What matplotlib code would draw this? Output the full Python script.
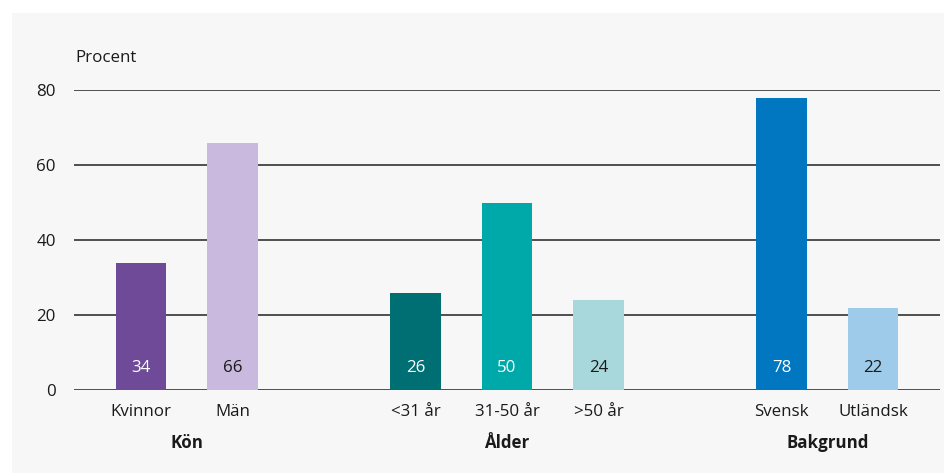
import matplotlib
matplotlib.use('Agg')
import matplotlib.pyplot as plt
from matplotlib.patches import Rectangle

plt.rcParams['font.family'] = ['Open Sans', 'DejaVu Sans']

# data
categories = ['Kvinnor', 'Män', '<31 år', '31-50 år', '>50 år', 'Svensk', 'Utländsk']
values = [34, 66, 26, 50, 24, 78, 22]
positions = [0, 1, 3, 4, 5, 7, 8]
groups = ['Kön', 'Ålder', 'Bakgrund']
group_centers = [0.5, 4, 7.5]
bar_colors = ['#6f4a98', '#c9b9de', '#006f74', '#00a9a9', '#a8d8dc', '#0077c0', '#9fcbeb']
label_colors = ['white', '#1a1a1a', 'white', 'white', '#1a1a1a', 'white', '#1a1a1a']
yticks = [0, 20, 40, 60, 80]

FS = 12.2

def main():
  fig = plt.figure(figsize=(9.44, 4.73), dpi=100)
  fig.patch.set_facecolor('white')
  # light grey panel behind the chart
  fig.patches.append(Rectangle((12 / 944, 0), 1 - 12 / 944, 1 - 13 / 473,
                               transform=fig.transFigure, facecolor='#f7f7f7',
                               edgecolor='none', zorder=-10))

  ax = fig.add_axes([74 / 944, (473 - 390) / 473, (940 - 74) / 944, 300 / 473])
  ax.set_facecolor('none')

  ax.bar(positions, values, width=0.55, color=bar_colors, zorder=3)
  for x, v, c in zip(positions, values, label_colors):
    ax.text(x, 6, str(v), ha='center', va='center', color=c, fontsize=FS, zorder=4)

  ax.set_ylim(0, 80)
  ax.set_xlim(-0.73, 8.73)
  ax.set_yticks(yticks)
  for t in yticks:
    ax.axhline(t, color='#333333', linewidth=1.2, zorder=2)
  ax.tick_params(axis='y', length=0, pad=13, labelsize=FS, labelcolor='#1a1a1a')

  ax.set_xticks(positions)
  ax.set_xticklabels(categories)
  ax.tick_params(axis='x', length=0, pad=10, labelsize=FS, labelcolor='#1a1a1a')

  for gx, g in zip(group_centers, groups):
    ax.text(gx, -14.0, g, ha='center', va='center', fontsize=FS, fontweight='bold',
            color='#1a1a1a')

  for s in ax.spines.values():
    s.set_visible(False)

  fig.text(75 / 944, 1 - 58 / 473, 'Procent', ha='left', va='center', fontsize=FS,
           color='#1a1a1a')

  fig.savefig('out.png', dpi=100, facecolor=fig.get_facecolor())
  return 0

if __name__ == '__main__':
  main()
